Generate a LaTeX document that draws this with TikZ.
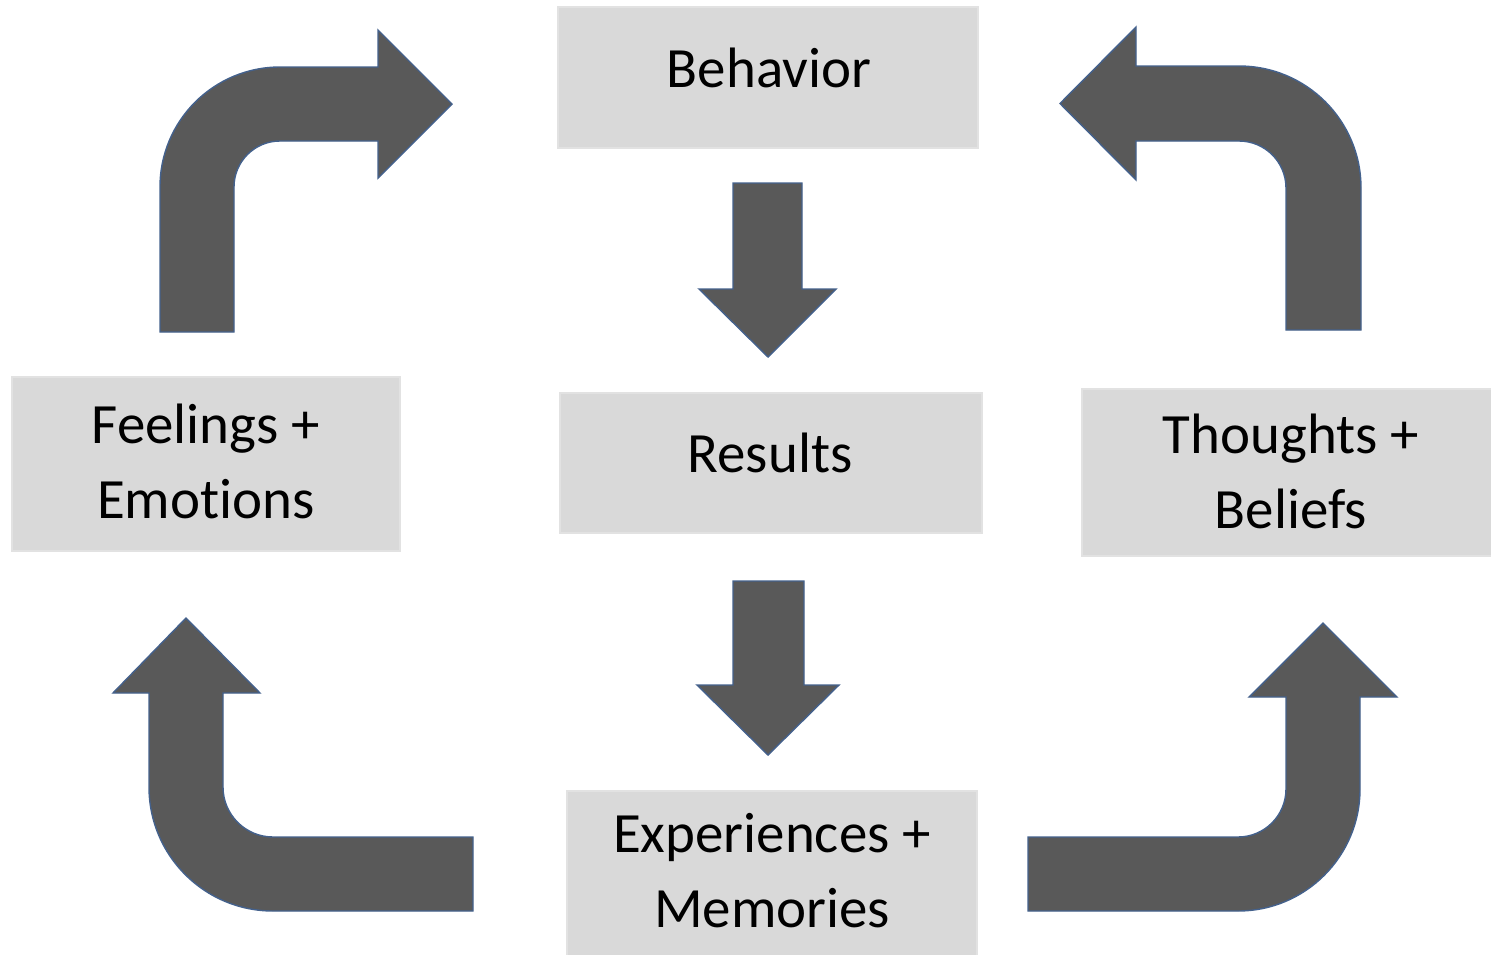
\documentclass[tikz,border=0pt]{standalone}
\usepackage{fontspec}
\setmainfont{Carlito}[Ligatures=NoCommon]
\usetikzlibrary{fit}
\definecolor{boxgray}{HTML}{D9D9D9}
\definecolor{boxedge}{HTML}{E2E2E2}
\definecolor{arrowgray}{HTML}{595959}
\definecolor{arrowedge}{HTML}{44618C}
\tikzset{
  box/.style={fill=boxgray, draw=boxedge, line width=0.8pt, inner sep=0pt, rectangle},
  txt/.style={font=\fontsize{32.4pt}{42.5pt}\selectfont, align=center, inner sep=0pt, text=black},
  blockarrow/.style={fill=arrowgray, draw=arrowedge, line width=0.8pt, line join=miter}
}
\begin{document}
\begin{tikzpicture}[x=0.02cm,y=-0.02cm]
\fill[white] (0,0) rectangle (1491,954);
\useasboundingbox (0,0) rectangle (1491,954);

% boxes
\node[box, fit={(558,7) (978,148)}] (beh) {};
\node[box, fit={(560,393) (982,533)}] (res) {};
\node[box, fit={(12,377) (400,551)}] (fee) {};
\node[box, fit={(1082,389) (1495,556)}] (tho) {};
\node[box, fit={(567,791) (977,958)}] (exp) {};

% texts (base anchor = baseline of last line)
\node[txt, anchor=base] (behT) at (769,87) {Behavior};
\node[txt, anchor=base] (resT) at (770,472) {Results};
\node[txt, anchor=base] (feeT) at (206,518) {Feelings +\\Emotions};
\node[txt, anchor=base] (thoT) at (1291,528) {Thoughts +\\Beliefs};
\node[txt, anchor=base] (expT) at (772,927) {Experiences +\\Memories};

% straight down arrows
\draw[blockarrow] (733,183) -- (802,183) -- (802,289) -- (836,289) -- (768,357)
  -- (699,289) -- (733,289) -- cycle;
\draw[blockarrow] (733,581) -- (804,581) -- (804,685) -- (839,685) -- (768,755)
  -- (697,685) -- (733,685) -- cycle;

% top-left bent arrow
\draw[blockarrow] (160,332) -- (160,187) arc (180:270:120) -- (378,67) -- (378,30)
  -- (452,104) -- (378,178) -- (378,141) -- (280,141) arc (270:180:46) -- (234,332) -- cycle;

% top-right bent arrow
\draw[blockarrow] (1361,330) -- (1361,188) arc (0:-90:122) -- (1136,66) -- (1136,27)
  -- (1060,103.5) -- (1136,180) -- (1136,141) -- (1239,141) arc (-90:0:47) -- (1286,330) -- cycle;

% bottom-left bent arrow
\draw[blockarrow] (473,911) -- (273,911) arc (90:180:124) -- (149,693) -- (113,693)
  -- (186,618) -- (260,693) -- (223,693) -- (223,787) arc (180:90:50) -- (473,837) -- cycle;

% bottom-right bent arrow
\draw[blockarrow] (1028,911) -- (1238,911) arc (90:0:122) -- (1360,697) -- (1397,697)
  -- (1323,623) -- (1249,697) -- (1286,697) -- (1286,789) arc (0:90:48) -- (1028,837) -- cycle;
\end{tikzpicture}
\end{document}
